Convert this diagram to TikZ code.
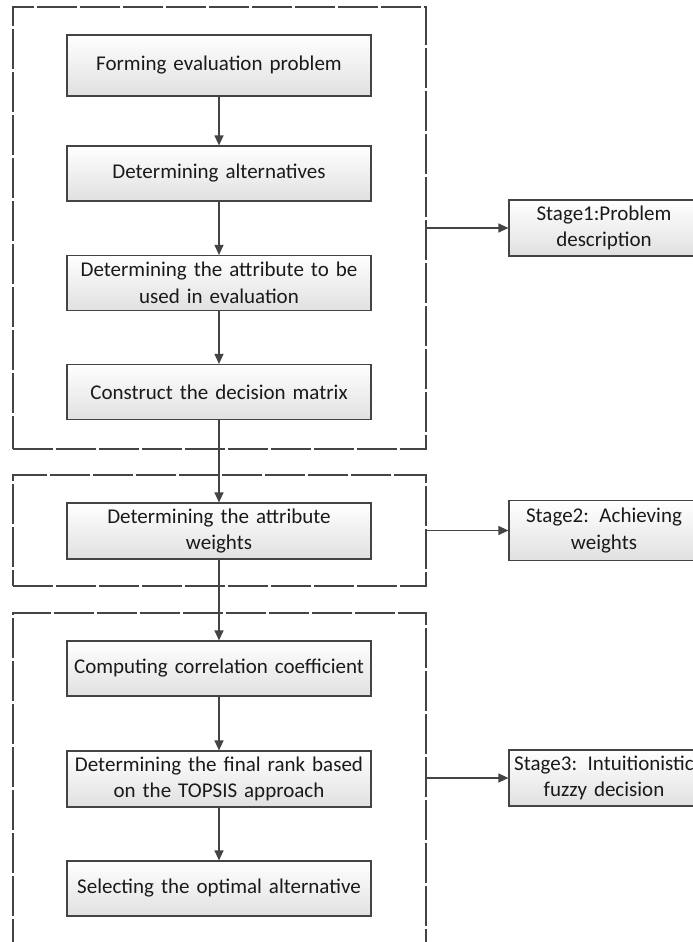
\documentclass[tikz,border=0pt]{standalone}
\usepackage{fontspec}
\setmainfont{Carlito}
\usetikzlibrary{arrows.meta}
\definecolor{ln}{HTML}{444444}
\definecolor{tx}{HTML}{1A1A1A}
\tikzset{
  stepbox/.style={draw=ln, line width=1.2pt, top color=white, bottom color=black!12,
    minimum width=304pt, minimum height=55pt, text width=300pt, align=center,
    inner sep=2pt, text=tx, font=\fontsize{21}{26.5}\selectfont},
  stagebox/.style={draw=ln, line width=1.2pt, top color=white, bottom color=black!12,
    minimum width=190pt, minimum height=56pt, text width=182pt, align=center,
    inner sep=4pt, text=tx, font=\fontsize{21}{26.5}\selectfont},
  groupbox/.style={draw=ln, line width=1.8pt, dash pattern=on 40pt off 3pt,
    minimum width=413pt, inner sep=0pt},
  flow/.style={draw=ln, line width=1.2pt, -{Triangle[length=10pt,width=9pt]}},
}
\begin{document}
\begin{tikzpicture}[x=1pt,y=-1pt]
\useasboundingbox (0,0) rectangle (693,942);
\clip (0,0) rectangle (693,942);
% group boxes
\node[groupbox, minimum height=442pt] (g1) at (219.5,228) {};
\node[groupbox, minimum height=111pt] (g2) at (219.5,530.5) {};
\node[groupbox, minimum height=330pt] (g3) at (219.5,778) {};
% steps
\node[stepbox, minimum height=61pt] (s1) at (219,65.5) {Forming evaluation problem};
\node[stepbox] (s2) at (219,173.5) {Determining alternatives};
\node[stepbox] (s3) at (219,283) {Determining the attribute to be\\used in evaluation};
\node[stepbox] (s4) at (219,392) {Construct the decision matrix};
\node[stepbox, minimum height=56pt] (s5) at (219,531) {Determining the attribute\\weights};
\node[stepbox] (s6) at (219,668.5) {Computing correlation coefficient};
\node[stepbox, minimum height=56pt] (s7) at (219,779) {Determining the final rank based\\on the TOPSIS approach};
\node[stepbox] (s8) at (219,888.5) {Selecting the optimal alternative};
% stages
\node[stagebox] (t1) at (604,228) {Stage1:Problem\\description};
\node[stagebox, minimum height=60pt] (t2) at (604,530.5) {Stage2: Achieving\\weights};
\node[stagebox] (t3) at (604,778) {Stage3: Intuitionistic\\fuzzy decision};
% flow arrows
\draw[flow] (s1) -- (s2);
\draw[flow] (s2) -- (s3);
\draw[flow] (s3) -- (s4);
\draw[flow] (s4) -- (s5);
\draw[flow] (s5) -- (s6);
\draw[flow] (s6) -- (s7);
\draw[flow] (s7) -- (s8);
% stage arrows
\draw[flow] (g1.east) -- (t1.west);
\draw[flow] (g2.east) -- (t2.west);
\draw[flow] (g3.east) -- (t3.west);
\end{tikzpicture}
\end{document}
